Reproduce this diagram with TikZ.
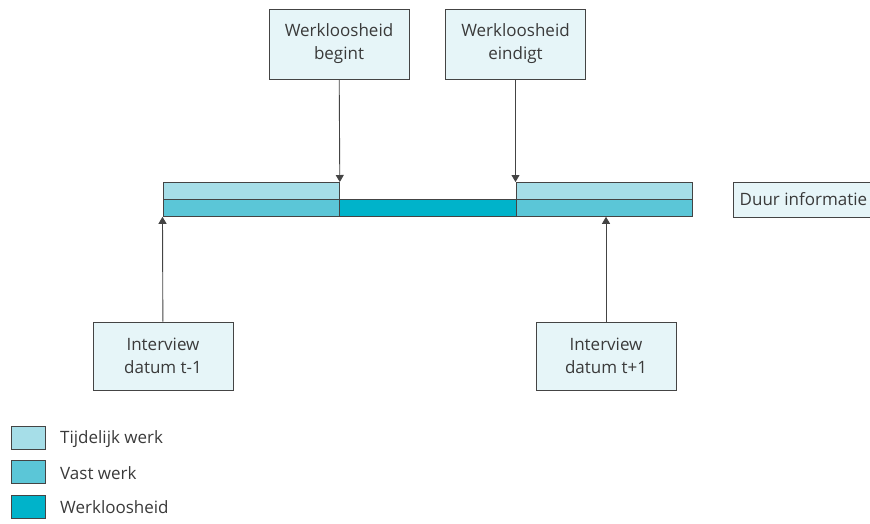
\documentclass[tikz,border=0pt]{standalone}
\usepackage{fontspec}
\setmainfont{Open Sans}
\usetikzlibrary{arrows.meta,positioning}

\definecolor{tijdelijk}{HTML}{A6DEE8}
\definecolor{vast}{HTML}{5BC6D7}
\definecolor{werkloos}{HTML}{00B3CA}
\definecolor{boxfill}{HTML}{E6F5F8}
\definecolor{rand}{HTML}{444444}
\definecolor{tekst}{HTML}{3A3A3A}

\begin{document}
\begin{tikzpicture}[x=1pt,y=-1pt,font=\fontsize{17}{23}\selectfont\color{tekst}]
    \tikzstyle{infobox}=[draw=rand,fill=boxfill,line width=0.8pt,minimum width=140pt,align=center,inner sep=0pt]
    \tikzstyle{segment}=[draw=rand,line width=0.8pt,minimum width=176.5pt,minimum height=17pt,inner sep=0pt,anchor=north west]
    \tikzstyle{legendbox}=[draw=rand,line width=0.8pt,minimum width=34pt,minimum height=23pt,inner sep=0pt]
    \tikzstyle{pijl}=[draw=rand,line width=0.9pt,-{Triangle[length=7pt,width=8pt]}]
    \useasboundingbox (0,0) rectangle (870,523);
    % balk
    \node[segment,fill=tijdelijk] (tw_1) at (162.5,182) {};
    \node[segment,fill=vast] (vw_1) at (162.5,199) {};
    \node[segment,fill=werkloos] (wl) at (339,199) {};
    \node[segment,fill=tijdelijk] (tw_2) at (515.5,182) {};
    \node[segment,fill=vast] (vw_2) at (515.5,199) {};
    % kaders
    \node[infobox,minimum height=70pt] (begin) at (339,44) {Werkloosheid\\begint};
    \node[infobox,minimum height=70pt] (eind) at (515.5,44) {Werkloosheid\\eindigt};
    \node[infobox,minimum height=68pt] (int_1) at (163,356) {Interview\\datum t-1};
    \node[infobox,minimum height=68pt] (int_2) at (606,356) {Interview\\datum t+1};
    \node[infobox,minimum height=35pt,anchor=west,inner sep=5pt] (duur) at (733,199.5) {Duur informatie};
    % pijlen
    \draw[pijl] (begin) -- (tw_1.north east);
    \draw[pijl] (eind) -- (tw_2.north west);
    \draw[pijl] (int_1) -- (vw_1.south west);
    \draw[pijl] (int_2) -- (int_2.north |- vw_2.south);
    % legenda
    \node[legendbox,fill=tijdelijk] (lg_1) at (28,437.5) {};
    \node[legendbox,fill=vast] (lg_2) at (28,472) {};
    \node[legendbox,fill=werkloos] (lg_3) at (28,506.5) {};
    \node[anchor=west,inner sep=0pt] at (60,439) {Tijdelijk werk};
    \node[anchor=west,inner sep=0pt] at (60,473) {Vast werk};
    \node[anchor=west,inner sep=0pt] at (60,507) {Werkloosheid};
\end{tikzpicture}
\end{document}
